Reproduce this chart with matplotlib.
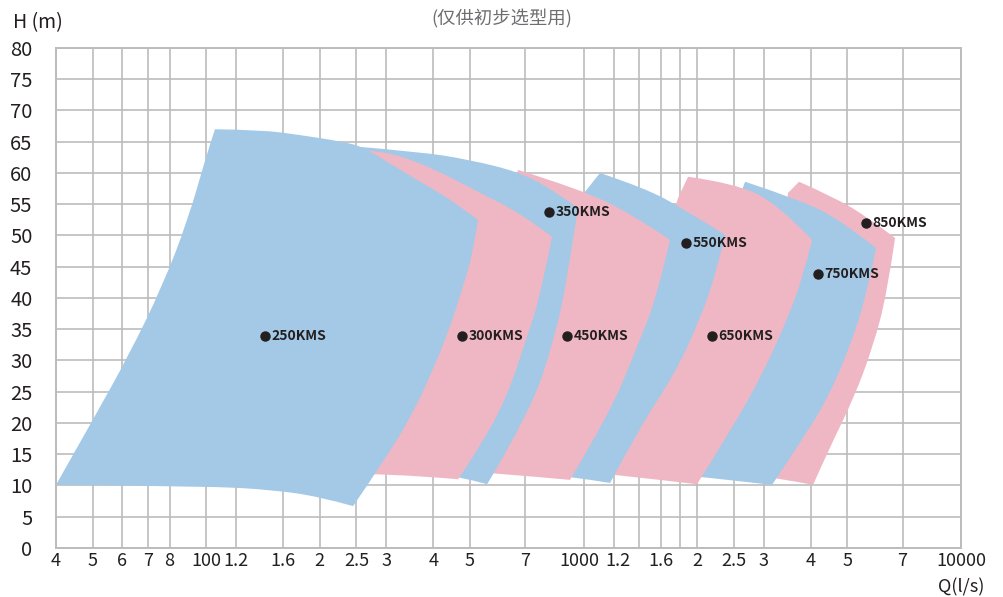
import math

import matplotlib
matplotlib.use("Agg")
import matplotlib.pyplot as plt
from matplotlib.patches import PathPatch
from matplotlib.path import Path
from matplotlib.ticker import NullLocator
from matplotlib.transforms import ScaledTranslation

plt.rcParams['font.family'] = ['Noto Sans CJK SC', 'DejaVu Sans']

BLUE = "#a3c9e6"
PINK = "#efb7c4"
INK = "#231f20"

# outlines of the operating ranges, Q in l/s, H in m
# corners_* are the indices of the sharp corners, the rest are points on smooth edges
q_250 = [40, 50.1, 62.8, 76.4, 89.5, 100.5, 105.5, 139, 177, 230, 260, 326, 416, 471, 525,
         509, 479, 443, 399, 353, 301, 245, 200, 150, 100.5]
h_250 = [10.1, 20.5, 31.2, 41.8, 52.5, 63.2, 67.0, 66.9, 66.1, 65.0, 64.2, 60.5, 56.8, 54.6, 52.5,
         47.2, 41.8, 35.4, 28.5, 21.6, 14.6, 6.7, 8.2, 9.3, 9.9]
corners_250 = [0, 6, 14, 21]

q_300 = [226, 226, 289, 392, 532, 679, 825, 767, 708, 627, 532, 465, 298]
h_300 = [11.8, 63.8, 63.8, 61.0, 56.8, 53.6, 49.8, 40.2, 33.8, 24.2, 16.2, 11.0, 12.0]
corners_300 = [0, 1, 6, 11]

q_350 = [368.6, 240.5, 368.6, 500, 670, 815, 966, 904, 840, 721, 555, 471]
h_350 = [12.5, 64.3, 63.4, 62.1, 60.2, 57.6, 54.4, 42.9, 33.8, 21.6, 10.2, 11.4]
corners_350 = [0, 1, 6, 10]

q_450 = [500, 670, 978, 1328, 1694, 1565, 1385, 1175, 920, 575]
h_450 = [12.2, 60.5, 57.4, 53.6, 49.3, 40.2, 32.2, 21.6, 10.9, 12.0]
corners_450 = [0, 1, 4, 8]

q_550 = [815, 1009, 1105, 1455, 1857, 2370, 2257, 2034, 1726, 1411, 1175, 932]
h_550 = [11.7, 57.0, 60.0, 57.6, 54.1, 50.1, 44.5, 36.5, 27.4, 19.4, 10.4, 11.4]
corners_550 = [0, 1, 2, 5, 10]

q_650 = [1072, 1779, 1891, 2489, 3254, 4030, 3814, 3459, 2988, 2489, 1997, 1226]
h_650 = [12.0, 56.0, 59.4, 58.4, 55.2, 49.3, 43.4, 36.5, 28.0, 19.4, 10.2, 11.7]
corners_650 = [0, 1, 2, 5, 10]

q_750 = [1801, 2629, 2678, 3745, 4781, 5955, 5636, 5081, 4417, 3745, 3157, 2034]
h_750 = [11.7, 57.3, 58.6, 55.7, 52.5, 48.0, 40.8, 32.2, 23.7, 16.8, 10.1, 11.4]
corners_750 = [0, 1, 2, 5, 10]

q_850 = [2934, 3480, 3722, 4581, 5636, 6688, 6369, 5847, 5175, 4497, 4054, 3254]
h_850 = [11.5, 56.8, 58.6, 56.2, 53.0, 49.6, 40.8, 32.2, 23.7, 16.2, 10.1, 11.2]
corners_850 = [0, 1, 2, 5, 10]

models = ["250KMS", "300KMS", "350KMS", "450KMS", "550KMS", "650KMS", "750KMS", "850KMS"]
outlines = [(q_250, h_250, corners_250), (q_300, h_300, corners_300),
            (q_350, h_350, corners_350), (q_450, h_450, corners_450),
            (q_550, h_550, corners_550), (q_650, h_650, corners_650),
            (q_750, h_750, corners_750), (q_850, h_850, corners_850)]
label_q = [143, 476, 810, 904, 1868, 2189, 4181, 5604]
label_h = [33.9, 33.9, 53.8, 33.9, 48.8, 33.9, 43.8, 52.0]

x_ticks = [40, 50, 60, 70, 80, 100, 120, 160, 200, 250, 300, 400, 500, 700,
           1000, 1200, 1400, 1600, 1800, 2000, 2500, 3000, 4000, 5000, 7000, 10000]
x_labels = ["4", "5", "6", "7", "8", "100", "1.2", "1.6", "2", "2.5", "3", "4", "5", "7",
            "1000", "1.2", "", "1.6", "", "2", "2.5", "3", "4", "5", "7", "10000"]
y_ticks = list(range(0, 81, 5))


def mid(a, b):
    # halfway on the log-x / linear-y axes
    return (math.sqrt(a[0] * b[0]), (a[1] + b[1]) / 2)


def outline_path(q, h, corners):
    pts = list(zip(q, h))
    n = len(pts)
    verts, codes = [pts[0]], [Path.MOVETO]
    stops = corners + [n]
    for a, b in zip(stops[:-1], stops[1:]):
        edge = [pts[i % n] for i in range(a, b + 1)]
        if len(edge) == 2:
            verts.append(edge[1])
            codes.append(Path.LINETO)
            continue
        for j in range(1, len(edge) - 1):
            end = edge[-1] if j == len(edge) - 2 else mid(edge[j], edge[j + 1])
            verts += [edge[j], end]
            codes += [Path.CURVE3, Path.CURVE3]
    verts.append(pts[0])
    codes.append(Path.CLOSEPOLY)
    return Path(verts, codes)


fig, ax = plt.subplots(figsize=(10.04, 5.97), dpi=100)
fig.subplots_adjust(left=0.0558, right=0.9572, bottom=0.0821, top=0.9196)

ax.set_xscale("log")
ax.set_xlim(40, 10000)
ax.set_ylim(0, 80)
ax.set_xticks(x_ticks, x_labels)
ax.xaxis.set_minor_locator(NullLocator())
ax.set_yticks(y_ticks)
ax.tick_params(length=0, colors=INK)
ax.tick_params(axis="y", pad=17, labelsize=14.5)
ax.tick_params(axis="x", pad=3, labelsize=13)
ax.grid(True, color="#bcbcbc", lw=1.2)
ax.set_axisbelow(True)
for s in ax.spines.values():
    s.set_color("#bcbcbc")
    s.set_linewidth(1.4)

# "1000" and the next "1.2" sit very close, pull them a bit apart
ticks = ax.xaxis.get_major_ticks()
for k, dx in [(14, -3), (15, 3)]:
    lab = ticks[k].label1
    lab.set_transform(lab.get_transform() + ScaledTranslation(dx / 72, 0, fig.dpi_scale_trans))

# left-most range sits on top
n = len(models)
for i, (q, h, corners) in enumerate(outlines):
    color = BLUE if i % 2 == 0 else PINK
    ax.add_patch(PathPatch(outline_path(q, h, corners), facecolor=color, lw=0,
                           zorder=10 + n - i))

ax.plot(label_q, label_h, "o", color=INK, ms=6.5, zorder=30)
for name, q, h in zip(models, label_q, label_h):
    ax.annotate(name, (q, h), xytext=(4.5, 0), textcoords="offset points",
                va="center", ha="left", fontsize=10, fontweight="bold",
                color=INK, zorder=31)

fig.text(13 / 1004, 1 - 23 / 597, "H (m)", fontsize=14, va="center", color=INK)
fig.text(502 / 1004, 1 - 19 / 597, "(仅供初步选型用)", fontsize=13.2, ha="center",
         va="center", color="#6d6e71")
fig.text(961 / 1004, 1 - 587 / 597, "Q(l/s)", fontsize=13, ha="center", va="center",
         color=INK)

fig.savefig("out.png", dpi=100)
